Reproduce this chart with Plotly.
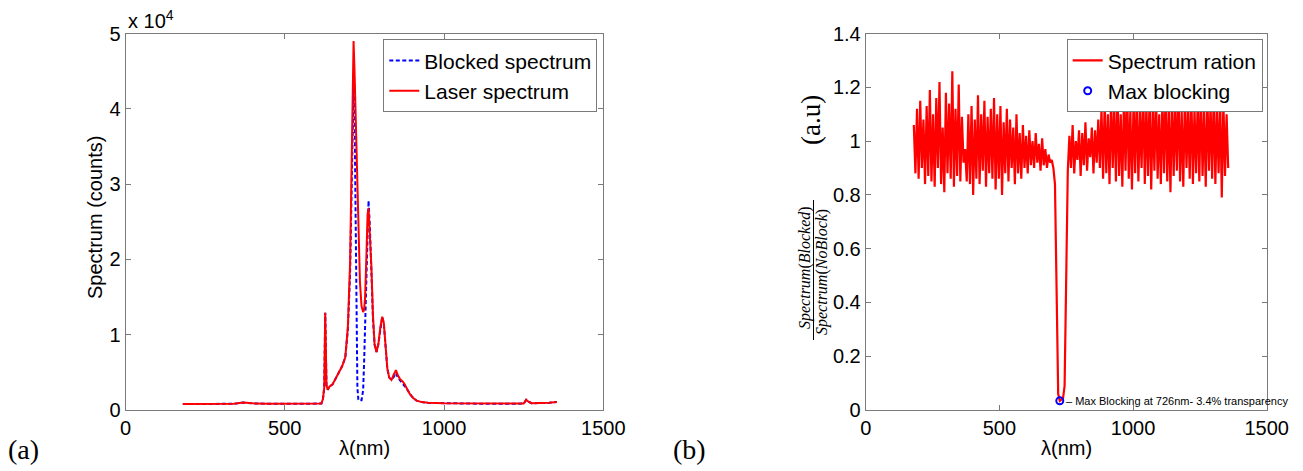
import plotly.graph_objects as go

# ---- Spectra (panel a) ----
spec_nm = [180, 250, 300, 340, 370, 400, 450, 500, 550, 600, 615, 620, 624, 627, 629, 631,
           635, 640, 650, 660, 670, 680, 690, 698, 705, 710, 713, 716, 719, 722, 726, 728,
           731, 736, 741, 746, 749, 752, 756, 760, 763, 767, 772, 777, 782, 788, 794, 800,
           806, 811, 816, 822, 828, 835, 842, 849, 855, 862, 870, 877, 885, 893, 903, 914,
           930, 950, 1000, 1100, 1200, 1250, 1258, 1265, 1275, 1300, 1330, 1354]

laser_counts = [800, 780, 800, 820, 1000, 880, 820, 800, 790, 800, 850, 1500, 3000, 12900, 9000, 3300,
                2700, 3100, 3400, 4200, 5000, 5800, 7000, 11000, 19500, 34000, 46000, 49000, 45000, 40000, 32000, 27000,
                22000, 17000, 13800, 13000, 13300, 14800, 20000, 26000, 26800, 24000, 19000, 12500, 8700, 7700, 8800, 11000,
                12400, 11500, 9000, 5500, 4300, 4000, 4700, 5300, 4600, 4100, 3800, 3400, 2700, 2100, 1600, 1250,
                1050, 950, 880, 840, 830, 850, 1350, 1100, 900, 880, 950, 1050]

blocked_counts = [800, 780, 800, 820, 1000, 880, 820, 800, 790, 800, 850, 1500, 3000, 12900, 9000, 3300,
                  2700, 3100, 3400, 4200, 5000, 5800, 7000, 10600, 18000, 30000, 39000, 43300, 40000, 26000, 10000, 3000,
                  1400, 1200, 1300, 2600, 6200, 11500, 19000, 26500, 27800, 24500, 18200, 12000, 8700, 7700, 8800, 11000,
                  12400, 11500, 9000, 5500, 4300, 4000, 4400, 4900, 4300, 3900, 3600, 3200, 2700, 2100, 1600, 1250,
                  1050, 950, 880, 840, 830, 850, 1350, 1100, 900, 880, 950, 1050]

# ---- Blocked / unblocked ratio (panel b), sampled every 6 nm from 180 nm ----
ratio_start_nm = 180
ratio_step_nm = 6
ratio_values = [
    # 180 - 474 nm
    1.06, 0.88, 1.12, 0.86, 1.15, 0.90, 1.08, 0.84, 1.13, 0.87,
    1.19, 0.85, 1.10, 0.83, 1.16, 0.90, 1.22, 0.84, 1.05, 0.81,
    1.18, 0.88, 1.14, 0.86, 1.26, 0.83, 1.12, 0.87, 1.21, 0.85,
    1.09, 0.92, 0.97, 0.85, 1.10, 0.84, 1.13, 0.80, 1.08, 0.86,
    1.17, 0.84, 1.10, 0.89, 1.15, 0.83, 1.09, 0.88, 1.12, 0.86,
    # 480 - 696 nm
    1.16, 0.82, 1.10, 0.86, 1.13, 0.80, 1.07, 0.88, 1.12, 0.85,
    1.08, 0.90, 1.05, 0.84, 1.10, 0.88, 1.03, 0.86, 1.06, 0.90,
    1.02, 0.88, 1.04, 0.91, 1.00, 0.90, 1.03, 0.92, 0.99, 0.89,
    1.01, 0.91, 0.97, 0.90, 0.95, 0.92, 0.93,
    # 702 - 756 nm (blocked band)
    0.90, 0.84, 0.45, 0.06, 0.034, 0.038, 0.042, 0.09, 0.55, 0.89,
    # 762 - 876 nm
    1.02, 0.90, 1.06, 0.88, 1.00, 0.93, 1.04, 0.87, 1.03, 0.91,
    1.07, 0.89, 1.01, 0.94, 1.05, 0.88, 1.04, 0.92, 1.08, 0.90,
    # 882 - 1356 nm
    1.12, 0.86, 1.15, 0.88, 1.10, 0.84, 1.17, 0.90, 1.13, 0.85,
    1.19, 0.87, 1.10, 0.83, 1.16, 0.89, 1.20, 0.86, 1.12, 0.82,
    1.15, 0.88, 1.18, 0.85, 1.11, 0.90, 1.20, 0.84, 1.14, 0.87,
    1.17, 0.82, 1.13, 0.89, 1.19, 0.86, 1.10, 0.84, 1.16, 0.88,
    1.20, 0.85, 1.12, 0.81, 1.18, 0.87, 1.14, 0.89, 1.20, 0.85,
    1.11, 0.83, 1.17, 0.90, 1.13, 0.86, 1.19, 0.84, 1.12, 0.88,
    1.16, 0.85, 1.20, 0.87, 1.11, 0.83, 1.18, 0.89, 1.14, 0.86,
    1.19, 0.84, 1.13, 0.88, 1.16, 0.79, 1.15, 0.87, 1.10, 0.90,
]
ratio_nm = [ratio_start_nm + i * ratio_step_nm for i in range(len(ratio_values))]

max_block_nm = [726]
max_block_ratio = [0.034]
max_block_label = "\u2013 Max Blocking at 726nm- 3.4% transparency"

x_ticks = [0, 500, 1000, 1500]
counts_ticks = [0, 10000, 20000, 30000, 40000, 50000]
counts_ticktext = ["0", "1", "2", "3", "4", "5"]
ratio_ticks = [0, 0.2, 0.4, 0.6, 0.8, 1.0, 1.2, 1.4]
ratio_ticktext = ["0", "0.2", "0.4", "0.6", "0.8", "1", "1.2", "1.4"]

W, H = 1303, 471
SANS = "Liberation Sans, Arial, sans-serif"
SERIF = "Liberation Serif, DejaVu Serif, serif"
FRAME = "#7a7a7a"


def px(xp):
    return xp / W


def py(yp):
    return 1 - yp / H


fig = go.Figure()

fig.add_trace(go.Scatter(
    x=spec_nm, y=blocked_counts, mode="lines", name="Blocked spectrum",
    line=dict(color="#0000ff", width=2, dash="4px,2.5px"),
    xaxis="x", yaxis="y", legend="legend"))
fig.add_trace(go.Scatter(
    x=spec_nm, y=laser_counts, mode="lines", name="Laser spectrum",
    line=dict(color="#ff0000", width=2),
    xaxis="x", yaxis="y", legend="legend"))

fig.add_trace(go.Scatter(
    x=ratio_nm, y=ratio_values, mode="lines", name="Spectrum ration",
    line=dict(color="#ff0000", width=2.2),
    xaxis="x2", yaxis="y2", legend="legend2"))
fig.add_trace(go.Scatter(
    x=max_block_nm, y=max_block_ratio, mode="markers", name="Max blocking",
    marker=dict(symbol="circle-open", color="#0000ff", size=7, line=dict(width=2, color="#0000ff")),
    xaxis="x2", yaxis="y2", legend="legend2"))

axis_common = dict(
    showline=True, linecolor=FRAME, linewidth=1, mirror="ticks",
    ticks="inside", ticklen=5, tickcolor=FRAME, tickwidth=1,
    showgrid=False, zeroline=False, automargin=False,
    tickfont=dict(family=SANS, size=20, color="black"),
)

left_dom = [px(125.5), px(603.3)]
right_dom = [px(865.7), px(1266.7)]
y_dom = [py(410), py(33.5)]

legend_style = dict(
    xanchor="left", yanchor="top",
    font=dict(family=SANS, size=21, color="black"),
    bgcolor="white", bordercolor=FRAME, borderwidth=1,
    itemwidth=30, tracegroupgap=0,
)

fig.update_layout(
    template="none",
    width=W, height=H,
    margin=dict(l=0, r=0, t=0, b=0, autoexpand=False),
    paper_bgcolor="white", plot_bgcolor="white",
    font=dict(family=SANS, color="black"),
    xaxis=dict(domain=left_dom, range=[0, 1500], tickvals=x_ticks, anchor="y", **axis_common),
    yaxis=dict(domain=y_dom, range=[0, 50000], tickvals=counts_ticks, ticktext=counts_ticktext,
               anchor="x", **axis_common),
    xaxis2=dict(domain=right_dom, range=[0, 1500], tickvals=x_ticks, anchor="y2", **axis_common),
    yaxis2=dict(domain=y_dom, range=[0, 1.4], tickvals=ratio_ticks, ticktext=ratio_ticktext,
                anchor="x2", **axis_common),
    legend=dict(x=px(383.3), y=py(39.3), **legend_style),
    legend2=dict(x=px(1066.7), y=py(39.3), **legend_style),
    showlegend=True,
)

annotations = [
    # axis titles
    dict(x=px(95), y=py(218), text="Spectrum (counts)", textangle=-90, font=dict(family=SANS, size=20)),
    dict(x=px(364), y=py(448), text="\u03bb(nm)", font=dict(family=SANS, size=20)),
    dict(x=px(1066), y=py(448), text="\u03bb(nm)", font=dict(family=SANS, size=20)),
    # exponent of the counts axis
    dict(x=px(126), y=py(20), text="x 10<sup>4</sup>", xanchor="left", font=dict(family=SANS, size=20)),
    # panel labels
    dict(x=px(23), y=py(449), text="(a)", font=dict(family=SERIF, size=28)),
    dict(x=px(689), y=py(449), text="(b)", font=dict(family=SERIF, size=28)),
    # ratio axis title: unit and fraction
    dict(x=px(811), y=py(120), text="(a.u)", textangle=-90, font=dict(family=SERIF, size=27)),
    dict(x=px(805), y=py(268), text="<i>Spectrum</i>(<i>Blocked</i>)", textangle=-90,
         font=dict(family=SERIF, size=16)),
    dict(x=px(822), y=py(272), text="<i>Spectrum</i>(<i>NoBlock</i>)", textangle=-90,
         font=dict(family=SERIF, size=16)),
    # label at the deepest blocking point
    dict(x=max_block_nm[0], y=max_block_ratio[0], xref="x2", yref="y2", text=max_block_label,
         xanchor="left", yanchor="middle", xshift=4, font=dict(family=SANS, size=11)),
]
for a in annotations:
    a.setdefault("xref", "paper")
    a.setdefault("yref", "paper")
    a.setdefault("xanchor", "center")
    a.setdefault("yanchor", "middle")
    a.setdefault("showarrow", False)
    a["font"]["color"] = "black"
fig.update_layout(annotations=annotations)

# fraction bar of the ratio axis title
fig.add_shape(type="line", xref="paper", yref="paper",
              x0=px(813.5), x1=px(813.5), y0=py(200), y1=py(340),
              line=dict(color="black", width=1))

fig.write_html("out.html")
